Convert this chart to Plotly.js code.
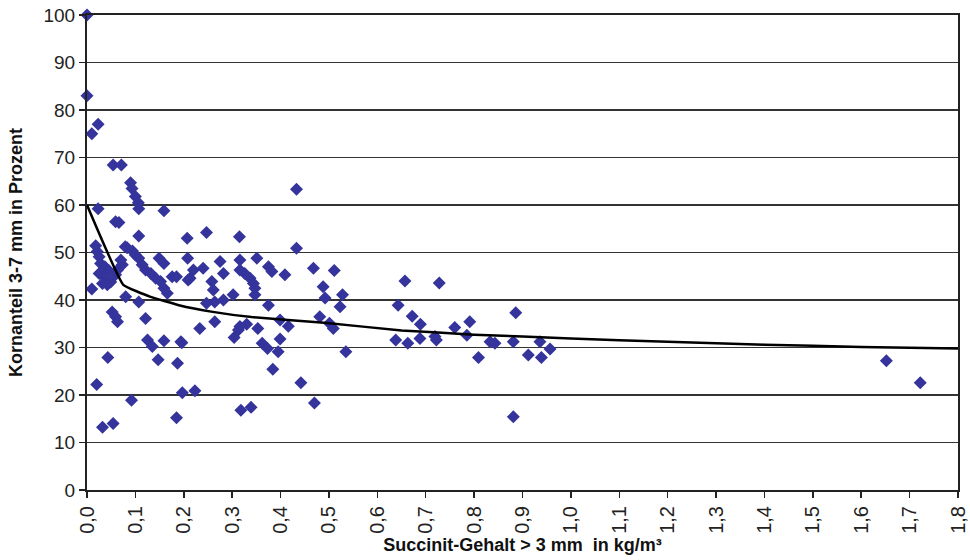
<!DOCTYPE html>
<html>
<head>
<meta charset="utf-8">
<script src="https://cdn.plot.ly/plotly-3.0.1.min.js"></script>
<style>html,body{margin:0;padding:0;background:#fff;}#chart{width:970px;height:560px;}</style>
</head>
<body>
<div id="chart"></div>
<script>
// Scatter data: Succinit-Gehalt (kg/m³) vs. Kornanteil 3-7 mm (%)
const succinitX = [
  0, 0, 0.01, 0.023, 0.01, 0.023, 0.054, 0.071, 0.090, 0.093,
  0.100, 0.106, 0.107, 0.159, 0.059, 0.066, 0.107, 0.018, 0.079, 0.207,
  0.021, 0.025, 0.083, 0.094, 0.100, 0.107, 0.028, 0.037, 0.045, 0.070,
  0.073, 0.025, 0.035, 0.032, 0.042, 0.049, 0.059, 0.063, 0.114, 0.121,
  0.132, 0.149, 0.159, 0.142, 0.152, 0.176, 0.159, 0.166, 0.080, 0.107,
  0.052, 0.059, 0.063, 0.121, 0.125, 0.135, 0.159, 0.194, 0.043, 0.020,
  0.092, 0.032, 0.054, 0.185, 0.197, 0.223, 0.147, 0.187, 0.247, 0.315,
  0.208, 0.220, 0.213, 0.240, 0.275, 0.282, 0.258, 0.261, 0.316, 0.316,
  0.326, 0.337, 0.344, 0.347, 0.351, 0.375, 0.382, 0.302, 0.282, 0.264,
  0.247, 0.375, 0.185, 0.433, 0.433, 0.409, 0.468, 0.511, 0.488, 0.492,
  0.528, 0.523, 0.399, 0.416, 0.481, 0.501, 0.509, 0.399, 0.395, 0.535,
  0.264, 0.233, 0.316, 0.330, 0.313, 0.353, 0.304, 0.362, 0.373, 0.196,
  0.384, 0.442, 0.470, 0.318, 0.339, 0.638, 0.657, 0.643, 0.672, 0.663,
  0.728, 0.689, 0.688, 0.719, 0.722, 0.760, 0.785, 0.791, 0.809, 0.833,
  0.843, 0.881, 0.886, 0.881, 0.912, 0.936, 0.939, 0.957, 1.652, 1.722,
  0.209, 0.347
];
const kornanteilY = [
  100, 83, 75, 77, 42.3, 59.2, 68.4, 68.4, 64.7, 63.5,
  61.8, 60.5, 59.2, 58.8, 56.5, 56.3, 53.5, 51.4, 51.2, 53.0,
  50.2, 49.1, 51.0, 50.3, 49.5, 48.8, 47.7, 47.0, 46.2, 48.4,
  47.4, 45.6, 44.9, 43.5, 43.2, 43.8, 45.3, 46.3, 47.4, 46.3,
  45.6, 48.8, 47.7, 44.6, 43.9, 44.9, 42.5, 41.4, 40.7, 39.6,
  37.5, 36.5, 35.4, 36.1, 31.6, 30.2, 31.4, 31.2, 27.9, 22.2,
  18.9, 13.2, 14.0, 15.2, 20.5, 20.9, 27.4, 26.7, 54.2, 53.3,
  48.8, 46.3, 44.6, 46.7, 48.1, 45.6, 43.9, 42.1, 48.4, 46.3,
  45.6, 44.6, 43.5, 42.5, 48.8, 47.0, 46.0, 41.1, 40.0, 39.6,
  39.3, 38.9, 44.9, 63.3, 50.9, 45.3, 46.7, 46.2, 42.8, 40.4,
  41.1, 38.6, 35.8, 34.5, 36.5, 35.1, 34.0, 31.8, 29.1, 29.1,
  35.4, 34.0, 34.4, 34.9, 33.7, 34.0, 32.1, 30.9, 29.8, 31.0,
  25.4, 22.6, 18.3, 16.8, 17.4, 31.6, 44.0, 38.9, 36.6, 30.9,
  43.6, 34.9, 31.9, 32.3, 31.6, 34.2, 32.6, 35.4, 27.9, 31.2,
  30.9, 31.2, 37.3, 15.4, 28.4, 31.2, 27.9, 29.7, 27.2, 22.6,
  44.2, 41.1
];
// Trend line
const trendX = [0, 0.075, 0.13, 0.19, 0.26, 0.34, 0.49, 0.65, 0.8, 1.0, 1.2, 1.4, 1.6, 1.8];
const trendY = [60, 43.2, 40.7, 38.9, 37.5, 36.4, 35.2, 33.6, 32.7, 31.9, 31.2, 30.6, 30.1, 29.8];
// Tick labels
const xTickVals = [0, 0.1, 0.2, 0.3, 0.4, 0.5, 0.6, 0.7, 0.8, 0.9, 1.0, 1.1, 1.2, 1.3, 1.4, 1.5, 1.6, 1.7, 1.8];
const xTickText = ["0,0","0,1","0,2","0,3","0,4","0,5","0,6","0,7","0,8","0,9","1,0","1,1","1,2","1,3","1,4","1,5","1,6","1,7","1,8"];
const yTickVals = [0, 10, 20, 30, 40, 50, 60, 70, 80, 90, 100];

const FONT = "Liberation Sans, Arial, sans-serif";

const traces = [
  {
    x: succinitX, y: kornanteilY, type: "scatter", mode: "markers",
    marker: {symbol: "diamond", size: 10, color: "#34349c", line: {width: 0}},
    hoverinfo: "x+y", cliponaxis: false
  },
  {
    x: trendX, y: trendY, type: "scatter", mode: "lines",
    line: {color: "#000000", width: 2.5, shape: "spline", smoothing: 0.3}
  }
];

const layout = {
  width: 970, height: 560,
  margin: {l: 87, r: 12, t: 15, b: 70},
  paper_bgcolor: "#ffffff", plot_bgcolor: "#ffffff",
  showlegend: false,
  font: {family: FONT, color: "#222"},
  xaxis: {
    range: [0, 1.8], tickvals: xTickVals, ticktext: xTickText,
    tickangle: -90, ticks: "outside", ticklen: 6, tickwidth: 1.5, tickcolor: "#222",
    tickfont: {family: FONT, size: 20, color: "#222"},
    showgrid: false, zeroline: false, automargin: false,
    showline: true, linecolor: "#222", linewidth: 2, mirror: true,
    title: {text: "<b>Succinit-Gehalt > 3 mm  in kg/m³</b>", font: {family: FONT, size: 18, color: "#111"}, standoff: 6}
  },
  yaxis: {
    range: [0, 100], tickvals: yTickVals,
    ticks: "outside", ticklen: 6, tickwidth: 1.5, tickcolor: "#222",
    tickfont: {family: FONT, size: 19, color: "#222"},
    showgrid: true, gridcolor: "#333", gridwidth: 1.6,
    zeroline: false, automargin: false,
    showline: true, linecolor: "#222", linewidth: 2, mirror: true,
    title: {text: "<b>Kornanteil 3-7 mm in Prozent</b>", font: {family: FONT, size: 18, color: "#111"}, standoff: 16}
  }
};

Plotly.newPlot("chart", traces, layout, {displayModeBar: false, staticPlot: true});
</script>
</body>
</html>
